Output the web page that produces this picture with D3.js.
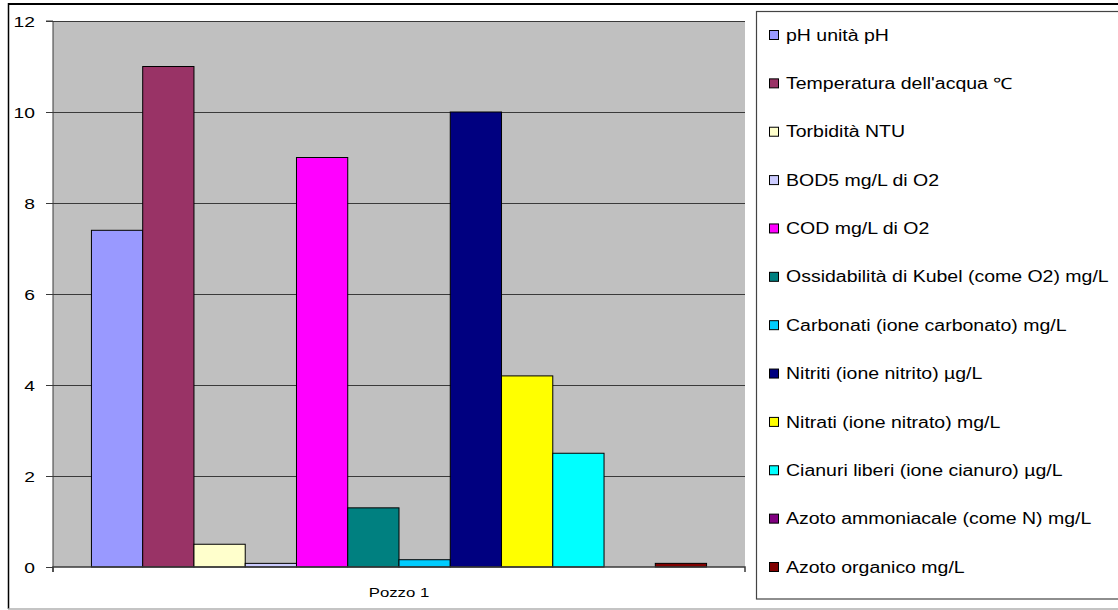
<!DOCTYPE html>
<html>
<head>
<meta charset="utf-8">
<script src="https://cdn.jsdelivr.net/npm/d3@7"></script>
<style>
  html, body { margin: 0; padding: 0; background: #ffffff; }
  svg { display: block; font-family: "Liberation Sans", Arial, sans-serif; }
</style>
</head>
<body>
<svg id="chart" width="1118" height="610"></svg>
<script>
// Water quality parameters measured at the well
const categories = ["Pozzo 1"];
const seriesNames = [
  "pH unità pH",
  "Temperatura dell'acqua ℃",
  "Torbidità NTU",
  "BOD5 mg/L di O2",
  "COD mg/L di O2",
  "Ossidabilità di Kubel (come O2) mg/L",
  "Carbonati (ione carbonato) mg/L",
  "Nitriti (ione nitrito) µg/L",
  "Nitrati (ione nitrato) mg/L",
  "Cianuri liberi (ione cianuro) µg/L",
  "Azoto ammoniacale (come N) mg/L",
  "Azoto organico mg/L"
];
const seriesValues = [7.4, 11, 0.5, 0.08, 9, 1.3, 0.16, 10, 4.2, 2.5, 0, 0.08];
const seriesColors = [
  "#9999FF", "#993366", "#FFFFCC", "#CCCCFF", "#FF00FF", "#008080",
  "#00CCFF", "#000080", "#FFFF00", "#00FFFF", "#800080", "#800000"
];
const yTicks = [0, 2, 4, 6, 8, 10, 12];

// text is drawn slightly widened horizontally
const STRETCH = 1.25;

const svg = d3.select("#chart");

// outer chart frame
svg.append("line").attr("x1", 8.5).attr("x2", 1118).attr("y1", 4).attr("y2", 4)
  .attr("stroke", "#000").attr("stroke-width", 2);
svg.append("line").attr("x1", 8.5).attr("x2", 8.5).attr("y1", 3).attr("y2", 609)
  .attr("stroke", "#000").attr("stroke-width", 1.5);
svg.append("line").attr("x1", 8).attr("x2", 1118).attr("y1", 609).attr("y2", 609)
  .attr("stroke", "#b0b0b0").attr("stroke-width", 1.5);

const plot = { left: 53, right: 745, top: 21, bottom: 567 };

const y = d3.scaleLinear().domain([0, 12]).range([plot.bottom, plot.top]);

// one category band; its 12 bars fill 12 of 13.5 bar-widths, gap split on both sides
const x0 = d3.scaleBand().domain(categories).range([plot.left, plot.right]).padding(0);
const barW = x0.bandwidth() / 13.5;
const x1 = d3.scaleBand().domain(seriesNames)
  .range([barW * 0.75, x0.bandwidth() - barW * 0.75])
  .padding(0);

// plot area
svg.append("rect")
  .attr("x", plot.left).attr("y", plot.top)
  .attr("width", plot.right - plot.left).attr("height", plot.bottom - plot.top)
  .attr("fill", "#C0C0C0");

// gridlines
svg.append("g").selectAll("line")
  .data(yTicks.filter(d => d > 0))
  .join("line")
  .attr("x1", plot.left).attr("x2", plot.right)
  .attr("y1", d => Math.round(y(d)) + 0.5).attr("y2", d => Math.round(y(d)) + 0.5)
  .attr("stroke", "#3a3a3a").attr("stroke-width", 1);

// bars
const group = svg.append("g").selectAll("g")
  .data(categories)
  .join("g")
  .attr("transform", d => `translate(${x0(d)},0)`);

group.selectAll("rect")
  .data(() => seriesNames.map((name, i) => ({ name, value: seriesValues[i], color: seriesColors[i] })))
  .join("rect")
  .filter(d => d.value > 0)
  .attr("x", d => x1(d.name))
  .attr("width", x1.bandwidth())
  .attr("y", d => y(d.value))
  .attr("height", d => y(0) - y(d.value))
  .attr("fill", d => d.color)
  .attr("stroke", "#000")
  .attr("stroke-width", 1);

// y axis
const yAxis = d3.axisLeft(y).tickValues(yTicks).tickSize(7).tickPadding(11).tickFormat(d3.format("d"));
const gy = svg.append("g").attr("transform", `translate(${plot.left},0)`).call(yAxis);
gy.select(".domain").attr("stroke", "#3a3a3a").attr("d", `M-7,${plot.top}H0V${plot.bottom + 5}`);
gy.selectAll(".tick line").attr("stroke", "#3a3a3a");
gy.selectAll(".tick text")
  .attr("font-size", 15.4).attr("fill", "#000")
  .attr("font-family", "Liberation Sans, Arial, sans-serif")
  .attr("x", -18 / STRETCH).attr("dy", "0.36em")
  .attr("transform", `scale(${STRETCH},1)`);

// x axis
const xAxis = d3.axisBottom(x0).tickSize(0).tickPadding(0);
const gx = svg.append("g").attr("transform", `translate(0,${plot.bottom})`).call(xAxis);
gx.select(".domain").attr("stroke", "#3a3a3a").attr("stroke-width", 1.5)
  .attr("d", `M${plot.left},5V0H${plot.right}V5`);
gx.selectAll(".tick text")
  .attr("font-size", 13.4).attr("fill", "#000")
  .attr("font-family", "Liberation Sans, Arial, sans-serif")
  .attr("y", 30).attr("dy", 0)
  .attr("transform", `scale(${STRETCH},1)`);

// legend
const legend = svg.append("g");
legend.append("rect")
  .attr("x", 756.5).attr("y", 11.5).attr("width", 400).attr("height", 587.5)
  .attr("fill", "#fff").attr("stroke", "#444").attr("stroke-width", 1.2);

const legendY = d3.scalePoint().domain(seriesNames).range([35, 567]);
const items = legend.selectAll("g.item")
  .data(seriesNames.map((name, i) => ({ name, color: seriesColors[i] })))
  .join("g")
  .attr("class", "item")
  .attr("transform", d => `translate(0,${legendY(d.name)})`);

items.append("rect")
  .attr("x", 769.5).attr("y", -4.5).attr("width", 9).attr("height", 9)
  .attr("fill", d => d.color).attr("stroke", "#000").attr("stroke-width", 1);
items.append("text")
  .attr("transform", `translate(786,0) scale(${STRETCH},1)`)
  .attr("dy", "0.36em")
  .attr("font-size", 15.6).attr("fill", "#000")
  .text(d => d.name);
</script>
</body>
</html>
